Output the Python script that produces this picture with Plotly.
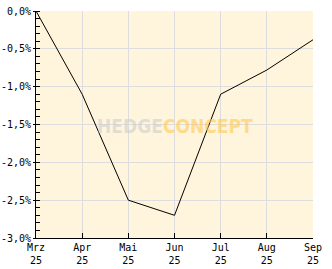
import plotly.graph_objects as go

months = ["Mrz", "Apr", "Mai", "Jun", "Jul", "Aug", "Sep"]
years = ["25", "25", "25", "25", "25", "25", "25"]
values = [0.0, -1.1, -2.5, -2.7, -1.1, -0.78, -0.38]
y_ticks = [0.0, -0.5, -1.0, -1.5, -2.0, -2.5, -3.0]
y_labels = ["0,0%", "-0,5%", "-1,0%", "-1,5%", "-2,0%", "-2,5%", "-3,0%"]

x = list(range(len(months)))
font = dict(family="DejaVu Sans Mono, monospace", size=10, color="black")

fig = go.Figure()
fig.add_trace(go.Scatter(x=x, y=values, mode="lines",
                         line=dict(color="black", width=1), hoverinfo="skip"))

fig.update_layout(
    width=332, height=269,
    margin=dict(l=36, r=19, t=11, b=31, autoexpand=False),
    paper_bgcolor="white", plot_bgcolor="#FFF5DC",
    showlegend=False, font=font,
    xaxis=dict(range=[0, 6], tickvals=x,
               ticktext=[f"{m}<br>{y}" for m, y in zip(months, years)],
               showgrid=True, gridcolor="#DDDDDD", gridwidth=1,
               showline=True, linecolor="black", linewidth=1,
               ticks="inside", ticklen=5, tickcolor="black",
               zeroline=False, tickfont=font, fixedrange=True, automargin=False),
    yaxis=dict(range=[-3.0, 0.0], tickvals=y_ticks, ticktext=y_labels,
               showgrid=True, gridcolor="#DDDDDD", gridwidth=1,
               showline=True, linecolor="black", linewidth=1,
               ticks="outside", ticklen=2, tickcolor="black",
               minor=dict(dtick=0.1, ticks="inside", ticklen=4, tickcolor="black", showgrid=False),
               zeroline=False, tickfont=font, fixedrange=True, automargin=False),
)

fig.add_annotation(
    x=0.5, y=0.495, xref="paper", yref="paper", showarrow=False,
    text="<b><span style='color:rgba(205,205,205,0.6)'>HEDGE</span><span style='color:rgba(255,200,80,0.6)'>CONCEPT</span></b>",
    font=dict(family="DejaVu Sans Condensed, sans-serif", size=19, color="#ccc"),
)

fig.write_html("out.html")
